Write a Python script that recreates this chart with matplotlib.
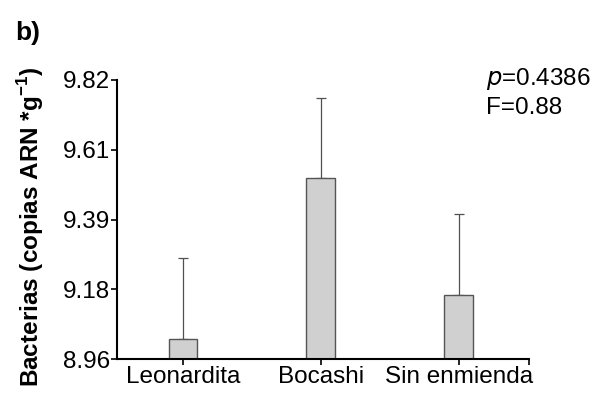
import matplotlib.pyplot as plt
import numpy as np

plt.rcParams['font.family'] = ['Liberation Sans', 'DejaVu Sans']

categories = ['Leonardita', 'Bocashi', 'Sin enmienda']
means = [9.021, 9.517, 9.157]
errors = [0.250, 0.247, 0.249]
tick_values = [8.96, 9.175, 9.39, 9.605, 9.82]
tick_labels = ['8.96', '9.18', '9.39', '9.61', '9.82']
base = 8.96


def main():
    fig = plt.figure(figsize=(6.02, 4.0), dpi=100)
    ax = fig.add_axes([0.194, 0.1025, 0.685, 0.6975])

    x = np.arange(len(categories))
    heights = [m - base for m in means]
    ax.bar(x, heights, bottom=base, width=0.21, color='#d0d0d0',
           edgecolor='#555555', linewidth=1.0, zorder=2)
    ax.errorbar(x, means, yerr=[[0] * len(errors), errors], fmt='none',
                ecolor='#505050', elinewidth=0.9, capsize=3.5, capthick=0.9, zorder=1)

    ax.set_xlim(-0.48, 2.51)
    ax.set_ylim(8.96, 9.82)
    ax.set_yticks(tick_values)
    ax.set_yticklabels(tick_labels, fontsize=17.5)
    ax.set_xticks(x)
    ax.set_xticklabels(categories, fontsize=17.5)
    ax.set_xticks([2.51], minor=True)
    ax.tick_params(axis='both', direction='out', length=4, width=1.2, color='black', pad=1)
    ax.tick_params(axis='x', which='minor', length=4, width=1.2)

    for side in ['top', 'right']:
        ax.spines[side].set_visible(False)
    for side in ['left', 'bottom']:
        ax.spines[side].set_linewidth(1.5)

    ax.set_ylabel('Bacterias (copias ARN *g$^{\\mathregular{-1}}$)', fontsize=17.5,
                  fontweight='bold')
    ax.yaxis.set_label_coords(-0.172, 0.475)

    fig.text(0.025, 0.9, 'b)', fontsize=19, fontweight='bold', va='baseline')
    fig.text(0.807, 0.7875, '$\\it{p}$=0.4386', fontsize=17.5, va='baseline')
    fig.text(0.807, 0.715, 'F=0.88', fontsize=17.5, va='baseline')

    fig.savefig('out.png', dpi=100)


if __name__ == '__main__':
    main()
